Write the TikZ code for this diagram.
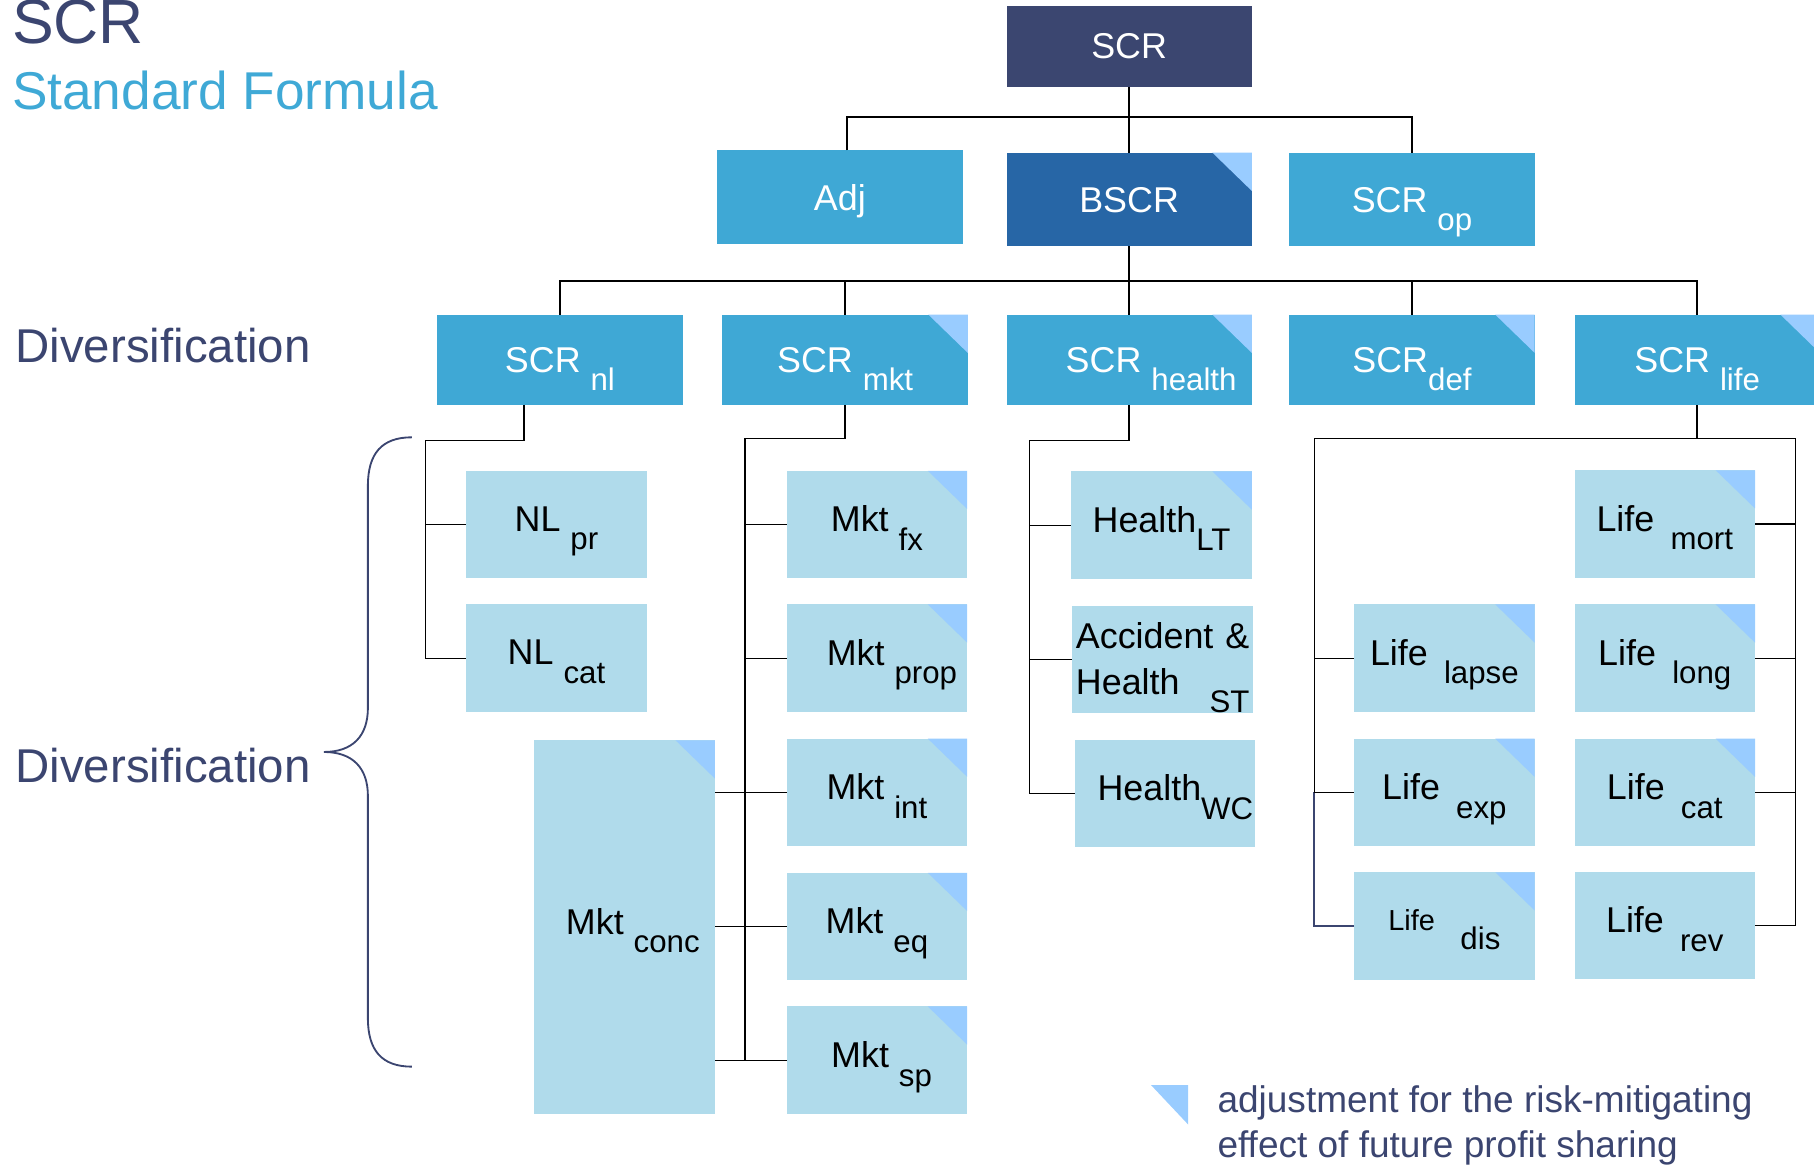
\documentclass[tikz,border=0pt]{standalone}
\usepackage{fontspec}
\setmainfont{Liberation Sans}
\usetikzlibrary{positioning}
\definecolor{TitleNavy}{HTML}{3B4570}
\definecolor{TitleBlue}{HTML}{3FA9D6}
\definecolor{NavyBox}{HTML}{3B4670}
\definecolor{DeepBlue}{HTML}{2766A6}
\definecolor{MidBlue}{HTML}{3FA8D5}
\definecolor{PaleBlue}{HTML}{B0DBEB}
\definecolor{TipBlue}{HTML}{99CCFF}
\newcommand\boxfont{\fontsize{15.5}{20}\selectfont}
\newcommand\lo[1]{\raisebox{-8pt}[0pt][0pt]{\fontsize{13.5}{16}\selectfont #1}}

\begin{document}
\begin{tikzpicture}[x=0.5pt,y=-0.5pt,
  base/.style={rectangle,inner sep=0pt,outer sep=0pt,font=\boxfont},
  topbox/.style={base,fill=#1,text=white,text depth=0pt,minimum width=106pt,minimum height=40.5pt},
  riskbox/.style={base,fill=MidBlue,text=white,text depth=0pt,minimum width=106pt,minimum height=39pt},
  leaf/.style={base,fill=PaleBlue,text=black,text depth=5pt,minimum width=78pt,minimum height=46.5pt},
  pps/.style={path picture={\fill[TipBlue] (path picture bounding box.north east) -- ++(-17pt,0pt) -- ++(17pt,-16.5pt) -- cycle;}},
  link/.style={draw=black,line width=0.6pt},
  heading/.style={anchor=base west,inner sep=0pt,text=TitleNavy}]
\useasboundingbox (0,0) rectangle (1568,1010);
% titles
\node[heading,font=\fontsize{27}{30}\selectfont] (title) at (10,38) {SCR};
\node[heading,text=TitleBlue,font=\fontsize{23}{26}\selectfont] (subtitle) at (10,95) {Standard Formula};
\node[heading,font=\fontsize{20.5}{24}\selectfont] (div1) at (13,313) {Diversification};
\node[heading,font=\fontsize{20.5}{24}\selectfont] (div2) at (13,676) {Diversification};
% upper levels
\node[topbox=NavyBox,minimum height=35pt] (scr) at (976,40) {SCR};
\node[topbox=MidBlue] (adj) at (726,170.5) {Adj};
\node[topbox=DeepBlue,pps] (bscr) at (976,172.5) {BSCR\hspace{8pt}};
\node[topbox=MidBlue] (op) at (1220.5,172.5) {SCR \lo{op}};
\node[riskbox] (nl) at (484,311) {SCR \lo{nl}};
\node[riskbox,pps] (mkt) at (730.5,311) {SCR \lo{mkt}};
\node[riskbox,pps] (health) at (976,311) {\hspace{19pt}SCR \lo{health}};
\node[riskbox,pps] (def) at (1220.5,311) {SCR\lo{def}\hspace{34pt}};
\node[riskbox,pps] (life) at (1467,311) {SCR \lo{life}};
% modules
\node[leaf] (nlpr) at (481,453.5) {NL \lo{pr}};
\node[leaf] (nlcat) at (481,569) {NL \lo{cat}};
\node[leaf,pps,minimum height=161.5pt] (mktconc) at (540,801.5) {\hspace{7pt}Mkt \lo{conc}};
\node[leaf,pps] (mktfx) at (758,453.5) {Mkt \lo{fx}};
\node[leaf,pps] (mktprop) at (758,569) {\hspace{13pt}Mkt \lo{prop}};
\node[leaf,pps] (mktint) at (758,685) {Mkt \lo{int}};
\node[leaf,pps] (mkteq) at (758,801) {Mkt \lo{eq}\hspace{21pt}};
\node[leaf,pps] (mktsp) at (758,916.5) {\hspace{4pt}Mkt \lo{sp}};
\node[leaf,pps] (hlt) at (1004,454) {Health\lo{LT}};
\node[leaf,align=left,text width=75pt,text depth=21pt] (acc) at (1005,570) {Accident \&\\Health\hfill\lo{ST}\hspace{2pt}};
\node[leaf] (hwc) at (1007,686) {\hspace{9pt}Health\lo{WC}};
\node[leaf,pps] (lapse) at (1248.5,569) {Life\hspace{7pt}\lo{lapse}};
\node[leaf,pps] (exp) at (1248.5,685) {Life\hspace{7pt}\lo{exp}};
\node[leaf,pps] (dis) at (1248.5,800.5) {{\fontsize{12.5}{15}\selectfont Life}\hspace{11pt}\lo{dis}};
\node[leaf,pps] (mort) at (1439,453) {Life\hspace{7pt}\lo{mort}};
\node[leaf,pps] (long) at (1439,569) {Life\hspace{7pt}\lo{long}};
\node[leaf,pps] (lcat) at (1439,685) {Life\hspace{7pt}\lo{cat}};
\node[leaf] (rev) at (1439,800) {Life\hspace{7pt}\lo{rev}};
% tree lines
\coordinate (bus1) at (976,101); \coordinate (bus2) at (976,243);
\draw[link] (adj.north) ++(6,0) |- (bus1) -| (op.north); \draw[link] (scr.south) -- (bscr.north);
\draw[link] (nl.north) |- (bus2) -| (life.north); \draw[link] (bscr.south) -- (health.north);
\foreach \n in {mkt,def} \draw[link] (\n.north) -- (\n.north |- bus2);
\coordinate (nlrail) at (368,381); \coordinate (mktrail) at (644,379); \coordinate (hrail) at (890,381);
\draw[link] (nl.south) ++(-31,0) |- (nlrail) |- (nlcat.west); \draw[link] (nlrail |- nlpr.west) -- (nlpr.west);
\draw[link] (mkt.south) |- (mktrail) |- (mktsp.west);
\foreach \n in {mktfx,mktprop,mktint,mkteq} \draw[link] (mktrail |- \n.west) -- (\n.west);
\foreach \n in {mktint,mkteq,mktsp} \draw[link] (\n.west -| mktrail) -- (\n.west -| mktconc.east);
\draw[link] (health.south) |- (hrail) |- (hwc.west);
\foreach \n in {hlt,acc} \draw[link] (hrail |- \n.west) -- (\n.west);
\coordinate (lleft) at (1136,379); \coordinate (lright) at (1552,379);
\draw[link] (life.south) -- (life.south |- lleft);
\draw[link] (dis.west) -| (lleft) -- (lright) |- (rev.east);
\draw[link,draw=TitleNavy,line width=0.9pt] (lleft |- exp.west) |- (dis.west);
\foreach \n in {lapse,exp} \draw[link] (lleft |- \n.west) -- (\n.west);
\foreach \n in {mort,long,lcat} \draw[link] (\n.east) -- (\n.east -| lright);
% brace
\draw[TitleNavy,line width=0.8pt] (356,378) .. controls (330,378) and (318,392) .. (318,420) -- (318,612)
  .. controls (318,636) and (305,650) .. (280,650) .. controls (305,650) and (318,664) .. (318,688)
  -- (318,880) .. controls (318,908) and (330,922) .. (356,922);
% legend
\fill[TipBlue] (995,938) -- (1027,938) -- (1027,972) -- cycle;
\node[anchor=north west,inner sep=0pt,align=left,text=TitleNavy,font=\fontsize{16}{19.5}\selectfont] (note) at (1052,938)
  {adjustment for the risk-mitigating\\effect of future profit sharing};
\end{tikzpicture}
\end{document}
